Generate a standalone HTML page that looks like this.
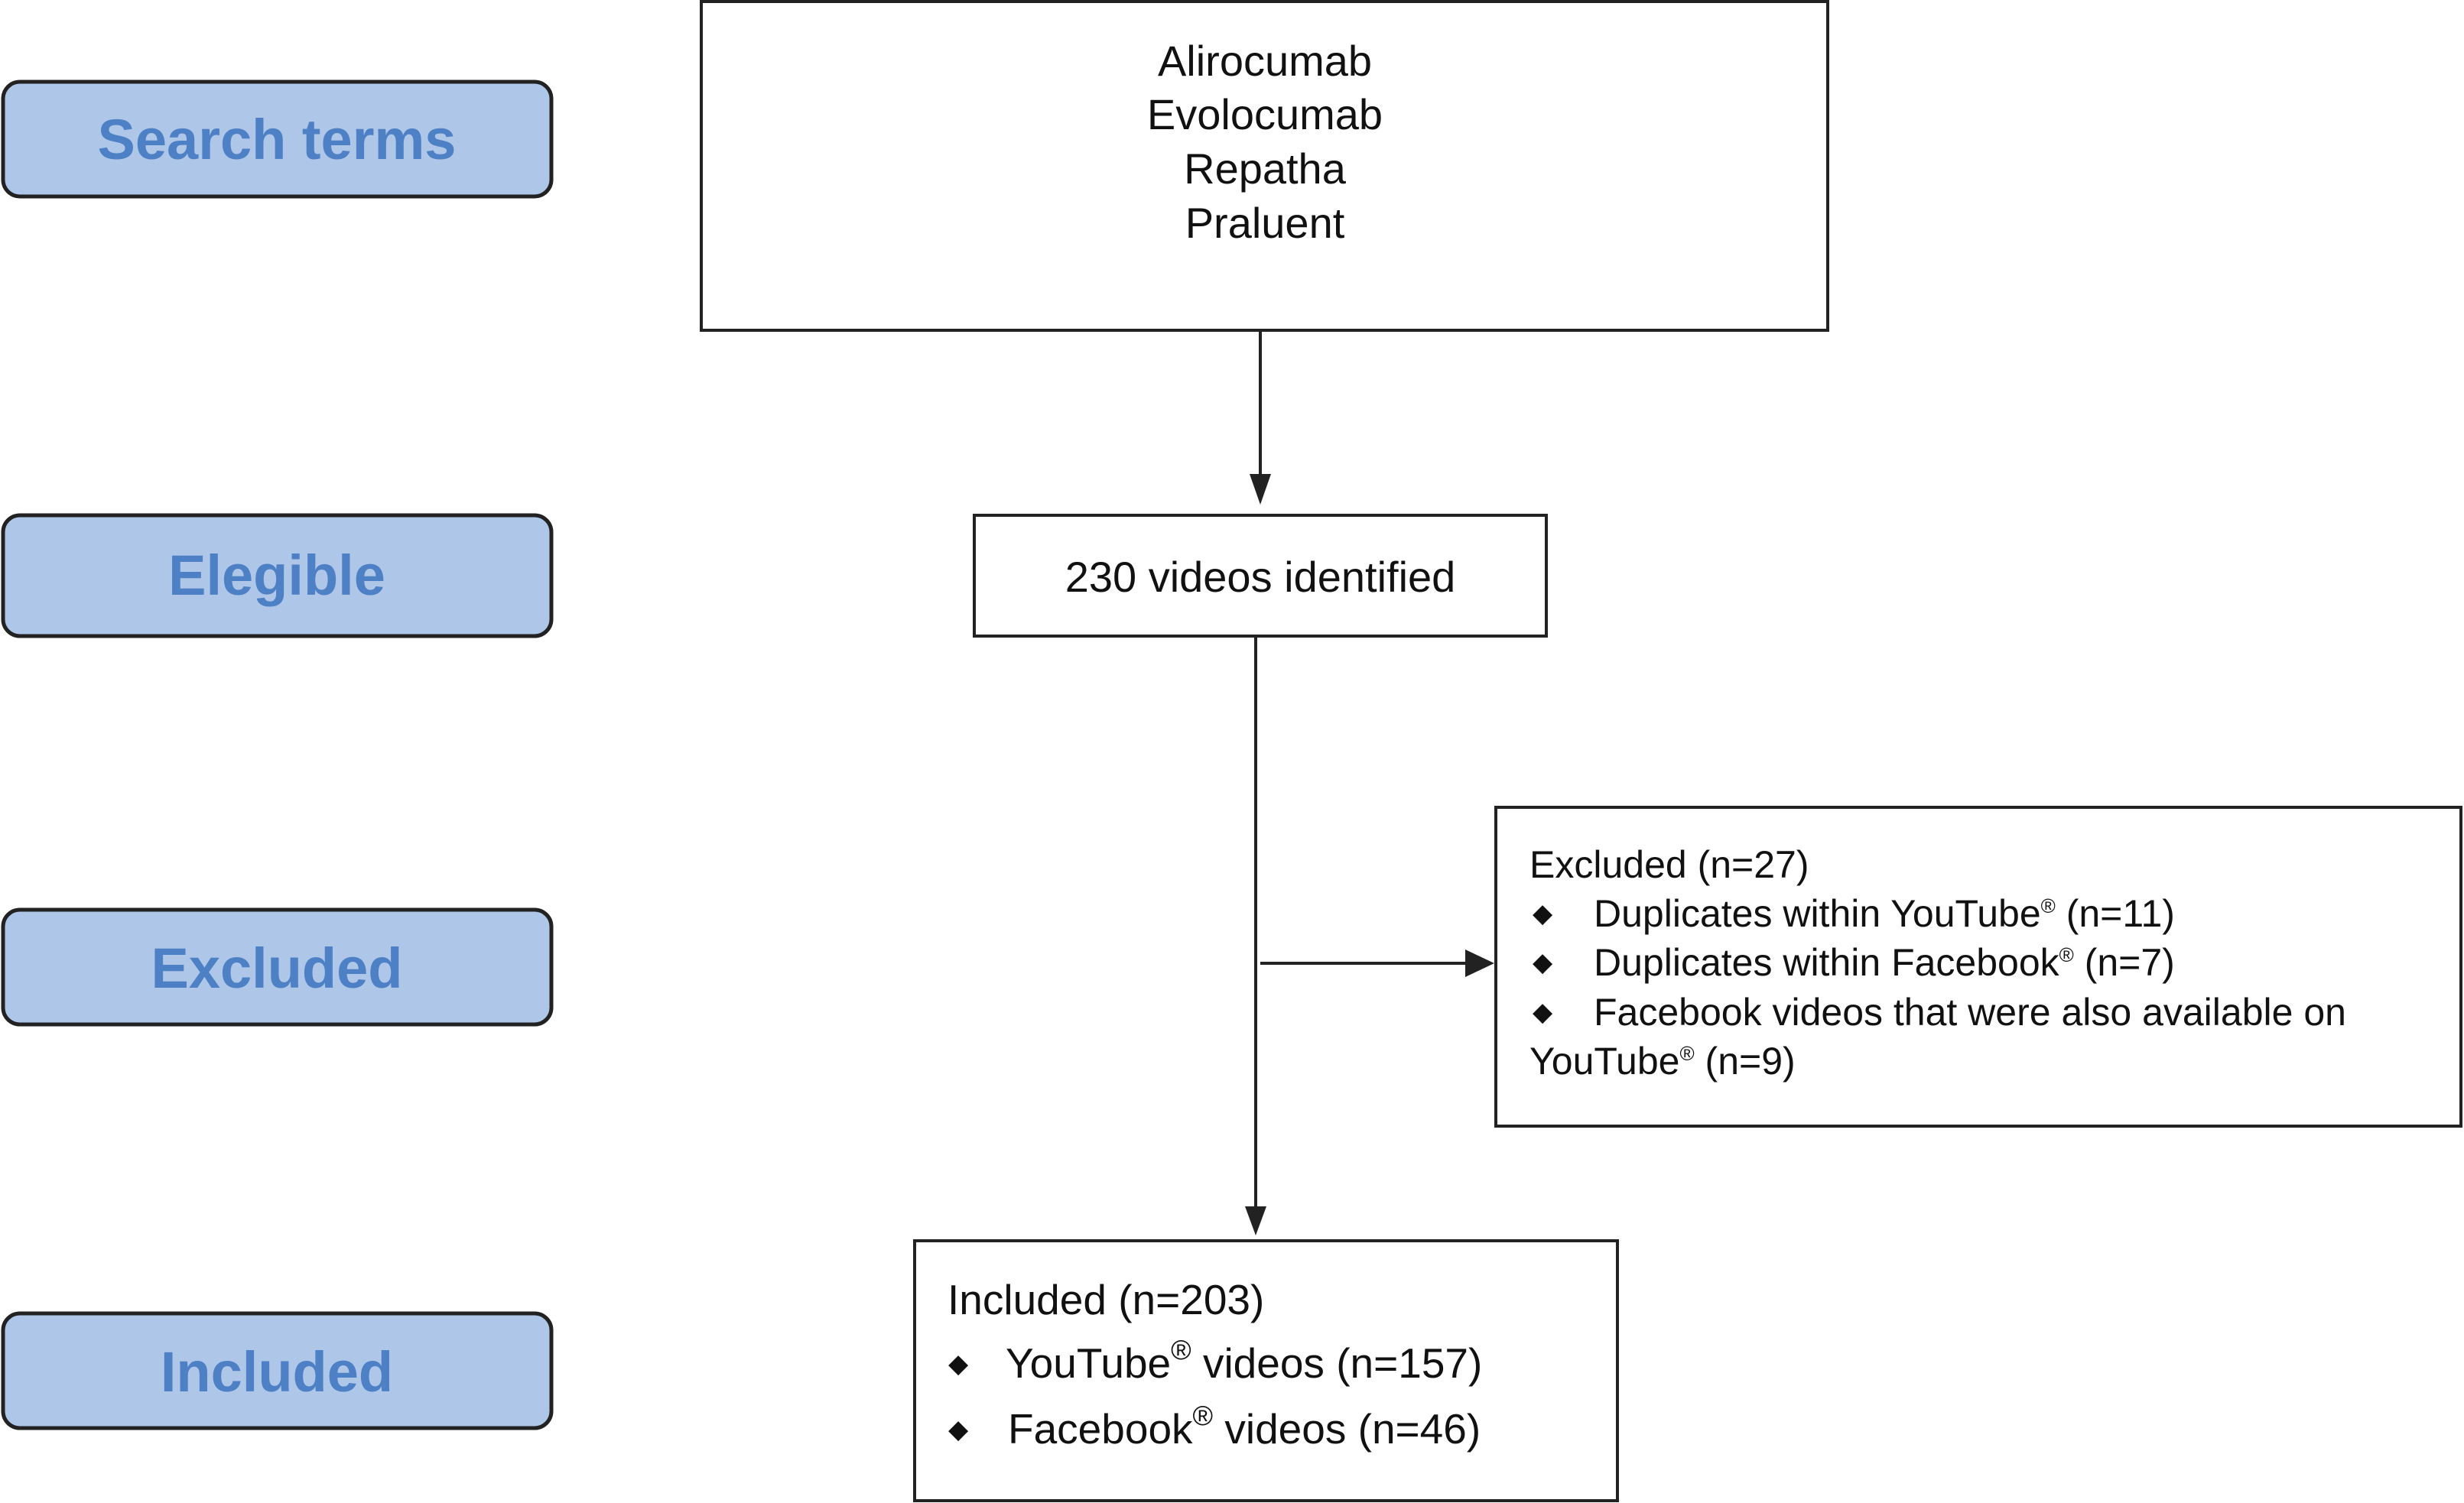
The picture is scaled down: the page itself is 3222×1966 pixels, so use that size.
<!DOCTYPE html>
<html><head><meta charset="utf-8"><style>html,body{margin:0;padding:0;background:#fff}svg{display:block}</style></head>
<body>
<svg width="3222" height="1966" viewBox="0 0 3222 1966" xmlns="http://www.w3.org/2000/svg" font-family="Liberation Sans, Arial, sans-serif">
<defs>
<marker id="ah" markerWidth="10" markerHeight="10" refX="9" refY="5" orient="auto" markerUnits="userSpaceOnUse" viewBox="0 0 10 10"><path d="M0,0 L10,5 L0,10 z" fill="#222"/></marker>
</defs>
<g fill="#aec6e8" stroke="#222" stroke-width="5">
<rect x="4" y="107" width="717" height="150" rx="22"/>
<rect x="4" y="674" width="717" height="158" rx="22"/>
<rect x="4" y="1190" width="717" height="150" rx="22"/>
<rect x="4" y="1718" width="717" height="150" rx="22"/>
</g>
<g fill="#4d80c4" font-weight="bold" font-size="74" text-anchor="middle">
<text x="362" y="208">Search terms</text>
<text x="362" y="778">Elegible</text>
<text x="362" y="1292">Excluded</text>
<text x="362" y="1820">Included</text>
</g>
<g fill="none" stroke="#222" stroke-width="4">
<rect x="917" y="2" width="1473" height="430"/>
<rect x="1274" y="674" width="748" height="158"/>
<rect x="1956" y="1056" width="1262" height="417"/>
<rect x="1196" y="1623" width="919" height="340"/>
</g>
<g stroke="#222" stroke-width="4">
<line x1="1648" y1="432" x2="1648" y2="620"/>
<line x1="1642" y1="832" x2="1642" y2="1580"/>
<line x1="1648" y1="1260" x2="1920" y2="1260"/>
</g>
<g fill="#222">
<polygon points="1634,620 1662,620 1648,660"/>
<polygon points="1628,1578 1656,1578 1642,1616"/>
<polygon points="1916,1242 1916,1278 1954,1260"/>
</g>
<g fill="#111" font-size="56" text-anchor="middle">
<text x="1654" y="99">Alirocumab</text>
<text x="1654" y="169">Evolocumab</text>
<text x="1654" y="240">Repatha</text>
<text x="1654" y="311">Praluent</text>
<text x="1648" y="774">230 videos identified</text>
</g>
<g fill="#111" font-size="50">
<text x="2000" y="1148">Excluded (n=27)</text>
<text x="2084" y="1212">Duplicates within YouTube<tspan font-size="26" dy="-18">®</tspan><tspan dy="18"> (n=11)</tspan></text>
<text x="2084" y="1276">Duplicates within Facebook<tspan font-size="26" dy="-18">®</tspan><tspan dy="18"> (n=7)</tspan></text>
<text x="2084" y="1341">Facebook videos that were also available on</text>
<text x="2000" y="1405">YouTube<tspan font-size="26" dy="-18">®</tspan><tspan dy="18"> (n=9)</tspan></text>
<text x="2004" y="1206" font-size="34">◆</text>
<text x="2004" y="1270" font-size="34">◆</text>
<text x="2004" y="1335" font-size="34">◆</text>
</g>
<g fill="#111" font-size="55">
<text x="1239" y="1719">Included (n=203)</text>
<text x="1315" y="1802">YouTube<tspan font-size="36" dy="-24">®</tspan><tspan dy="24"> videos (n=157)</tspan></text>
<text x="1318" y="1888">Facebook<tspan font-size="36" dy="-24">®</tspan><tspan dy="24"> videos (n=46)</tspan></text>
<text x="1240" y="1795" font-size="34">◆</text>
<text x="1240" y="1881" font-size="34">◆</text>
</g>
</svg>
</body></html>
